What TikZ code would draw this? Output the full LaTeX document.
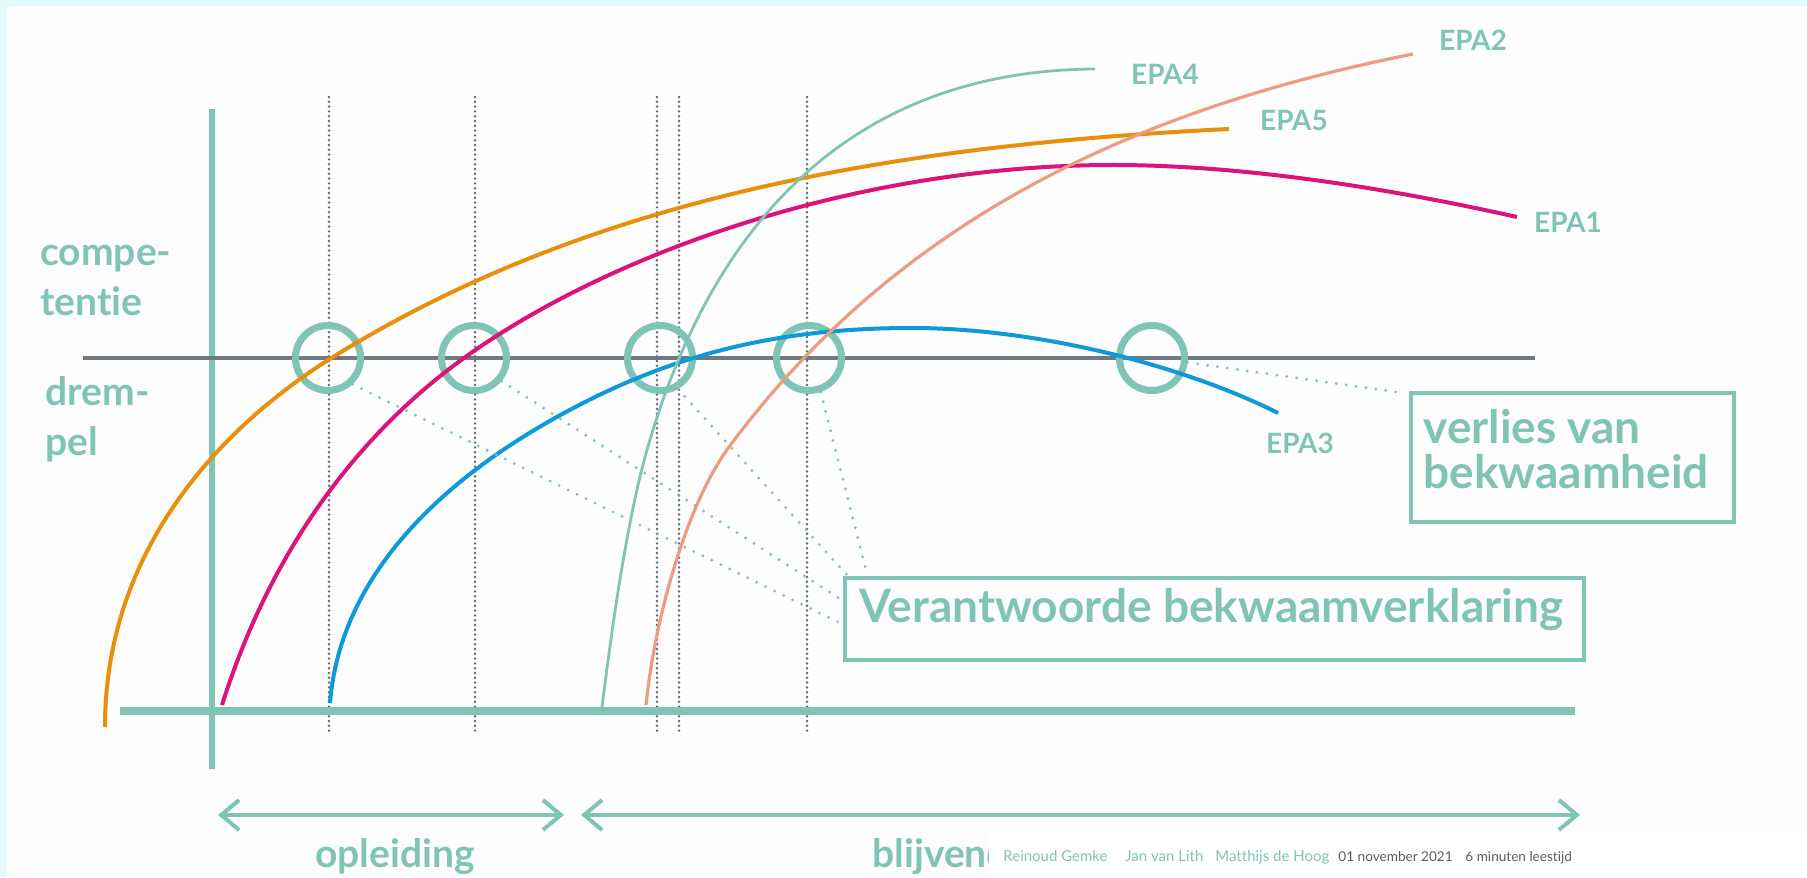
\documentclass[tikz,border=0pt]{standalone}
\usepackage{fontspec}
\setmainfont{Lato}[Ligatures=NoCommon]
\usetikzlibrary{arrows.meta,calc}

\definecolor{mint}{HTML}{80C4B6}
\definecolor{slate}{HTML}{6F7883}
\definecolor{dotgray}{HTML}{5C6670}
\definecolor{epaorange}{HTML}{E8900C}
\definecolor{epapink}{HTML}{DD127A}
\definecolor{epablue}{HTML}{0E99D9}
\definecolor{epasalmon}{HTML}{EE9C80}
\definecolor{edge}{HTML}{E4FBFA}
\definecolor{paper}{HTML}{FDFDFE}
\definecolor{footgray}{HTML}{5E5E5E}

\begin{document}
\begin{tikzpicture}[x=0.5pt,y=-0.5pt,
  ring/.style={circle, draw=mint, line width=3.5pt, minimum size=32.5pt, inner sep=0pt},
  leader/.style={mint, line width=1.6pt, line cap=round, dash pattern=on 0pt off 5pt},
  guide/.style={dotgray, line width=1.35pt, line cap=round, dash pattern=on 0pt off 2.4pt},
  frame/.style={draw=mint, line width=1.75pt, inner sep=0pt, outer sep=0pt, anchor=north west},
  epa/.style={mint, inner sep=0pt, font=\bfseries\fontsize{14}{16}\selectfont},
  sidetext/.style={mint, inner sep=0pt, align=left, font=\bfseries\fontsize{19.5}{25}\selectfont},
  boxtext/.style={mint, inner sep=0pt, align=left, font=\bfseries\fontsize{23}{22.5}\selectfont},
  foot/.style={mint, inner sep=0pt, anchor=base west, font=\fontsize{7.5}{9}\selectfont},
  period/.style={mint, line width=2pt, {Straight Barb[length=9pt,width=15pt]}-{Straight Barb[length=9pt,width=15pt]}},
  curve/.style={line width=2pt}]
\fill[edge] (0,0) rectangle (1807,877);
\fill[paper] (7,6) rectangle (1807,877);
\useasboundingbox (0,0) rectangle (1807,877);

% dotted moments
\foreach \gx in {329,475,657,679,807}
  \draw[guide] (\gx,97) -- (\gx,733);

% axes and threshold
\draw[mint, line width=3pt] (212,109) -- (212,769);
\draw[mint, line width=3.75pt] (120,711) -- (1575,711);
\draw[slate, line width=1.6pt] (83,358) -- (1535,358);

% crossings with the threshold
\node[ring] (c1) at (328,358) {};
\node[ring] (c2) at (474,358) {};
\node[ring] (c3) at (660,358) {};
\node[ring] (c4) at (809,358) {};
\node[ring] (c5) at (1152,358) {};

% EPA curves
\draw[curve, epaorange] (105,727) .. controls (105,540) and (233,419) .. (333,357)
  .. controls (583,202) and (879,146) .. (1229,129);
\draw[curve, epapink] (222,705) .. controls (273,543) and (364,430) .. (464,358)
  .. controls (614,250) and (863,165) .. (1113,165)
  .. controls (1243,165) and (1387,188) .. (1517,217);
\draw[curve, epablue] (330,703) .. controls (342,553) and (479,455) .. (589,400)
  .. controls (699,345) and (802,328) .. (912,328)
  .. controls (1032,328) and (1178,363) .. (1278,413);
\draw[curve, mint, line width=1.4pt] (602,707) .. controls (612,627) and (627,520) .. (647,450)
  .. controls (727,170) and (900,70) .. (1095,69);
\draw[curve, epasalmon, line width=1.6pt] (646,705) .. controls (656,610) and (689,501) .. (729,447)
  .. controls (909,204) and (1163,104) .. (1413,54);

\node[epa] (e4) at (1165,74) {EPA4};
\node[epa] (e2) at (1473,40) {EPA2};
\node[epa] (e5) at (1294,120) {EPA5};
\node[epa] (e1) at (1568,222) {EPA1};
\node[epa] (e3) at (1300,443) {EPA3};

\node[sidetext, anchor=base west] (comp) at (40,315) {compe-\\tentie};
\node[sidetext, anchor=base west] (drem) at (45,455) {drem-\\pel};

% boxes and leaders
\node[frame, minimum width=369.5pt, minimum height=41pt] (vbox) at (845,578) {};
\node[boxtext, anchor=base west] (vtext) at (859,622) {Verantwoorde bekwaamverklaring};
\node[frame, minimum width=161.5pt, minimum height=64.5pt] (lbox) at (1411,393) {};
\node[boxtext, anchor=base west] (ltext) at (1423,488) {verlies van\\bekwaamheid};

\draw[leader] (c1.-47) -- ($(vbox.north west)+(-3,46)$);
\draw[leader] (c2.-40) -- ($(vbox.north west)+(-3,22)$);
\draw[leader] (c3.-60) -- ($(vbox.north west)+(3,-2)$);
\draw[leader] (c4.-71) -- ($(vbox.north west)+(22,-4)$);
\draw[leader] (c5.-7) -- ($(lbox.north west)+(-8,0)$);

% periods
\coordinate (o1) at (218,815);
\coordinate (o2) at (564,815);
\coordinate (b1) at (581,815);
\coordinate (b2) at (1580,815);
\draw[period] (o1) -- (o2);
\draw[period] (b1) -- (b2);
\node[sidetext, anchor=base] (opl) at (395,867) {opleiding};
\node[sidetext, anchor=base west] (blij) at (872,867) {blijvend};

% page footer over the picture
\fill[white] (989,832) rectangle (1807,877);
\node[foot] (a1) at (1003,861) {Reinoud Gemke};
\node[foot] (a2) at (1125,861) {Jan van Lith};
\node[foot] (a3) at (1215,861) {Matthijs de Hoog};
\node[foot, footgray, font=\fontsize{6.8}{8}\selectfont] (d1) at (1338,861) {01 november 2021};
\node[foot, footgray, font=\fontsize{6.8}{8}\selectfont] (d2) at (1465,861) {6 minuten leestijd};
\end{tikzpicture}
\end{document}
